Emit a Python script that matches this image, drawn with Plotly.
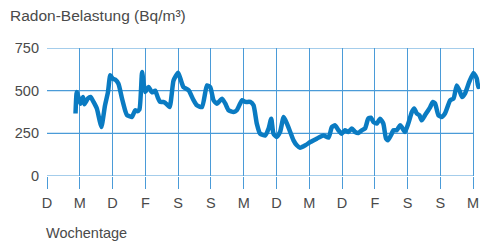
import plotly.graph_objects as go

# time in days since the first tick (D), radon concentration in Bq/m³
days = [0.87, 0.91, 1.02, 1.10, 1.14, 1.25, 1.33, 1.42, 1.52, 1.60, 1.66, 1.77, 1.86, 1.93, 2.00,
        2.08, 2.18, 2.28, 2.39, 2.44, 2.52, 2.59, 2.69, 2.75, 2.82, 2.90, 2.95, 3.00, 3.10, 3.20,
        3.30, 3.38, 3.45, 3.55, 3.60, 3.74, 3.86, 4.00, 4.06, 4.12, 4.16, 4.32, 4.47, 4.57, 4.73,
        4.88, 4.98, 5.08, 5.18, 5.34, 5.44, 5.54, 5.69, 5.79, 5.89, 5.95, 6.05, 6.20, 6.30, 6.40,
        6.50, 6.66, 6.76, 6.84, 6.91, 7.01, 7.11, 7.22, 7.32, 7.42, 7.52, 7.62, 7.72, 7.88, 8.03,
        8.23, 8.43, 8.59, 8.69, 8.79, 8.89, 8.99, 9.09, 9.19, 9.30, 9.40, 9.50, 9.60, 9.70, 9.80,
        9.88, 9.96, 10.06, 10.16, 10.26, 10.34, 10.40, 10.49, 10.57, 10.67, 10.77, 10.82, 10.92,
        11.02, 11.13, 11.20, 11.28, 11.36, 11.43, 11.53, 11.69, 11.77, 11.84, 11.94, 12.04, 12.14,
        12.30, 12.40, 12.50, 12.58, 12.66, 12.75, 12.88, 13.01, 13.11, 13.16, 13.26]
radon = [366, 492, 424, 463, 420, 455, 463, 434, 395, 330, 287, 414, 492, 590, 571,
         565, 540, 460, 380, 356, 350, 346, 385, 380, 390, 609, 540, 492, 521, 490,
         500, 460, 434, 434, 430, 404, 560, 605, 575, 541, 521, 502, 444, 414, 404,
         531, 521, 444, 424, 453, 424, 385, 375, 385, 424, 444, 434, 434, 414, 307,
         248, 238, 278, 336, 248, 229, 258, 346, 307, 258, 209, 180, 166, 180, 199,
         219, 238, 225, 287, 297, 268, 248, 268, 258, 278, 258, 252, 268, 278, 336,
         342, 316, 307, 336, 307, 220, 209, 238, 268, 268, 297, 287, 258,
         307, 375, 395, 366, 356, 326, 356, 404, 434, 424, 356, 346, 366,
         444, 453, 531, 502, 463, 483, 551, 604, 571, 521, 531]

tick_vals = list(range(14))
tick_labels = ["D", "M", "D", "F", "S", "S", "M", "D", "M", "D", "F", "S", "S", "M"]
y_ticks = [0, 250, 500, 750]

GRID = "#4a9bd8"
LINE = "#0a7bc2"
TXT = "#4a4a4a"
FONT = "Liberation Sans"

# page body has an 8px default margin, so the figure is sized 480x235
W, H = 480, 235

fig = go.Figure()
fig.add_trace(go.Scatter(x=days, y=radon, mode="lines",
                         line=dict(color=LINE, width=4.5, shape="spline", smoothing=0.5),
                         cliponaxis=False, hoverinfo="skip"))

for yv in y_ticks:
    fig.add_shape(type="line", xref="x", yref="y", x0=tick_vals[0], x1=tick_vals[-1],
                  y0=yv, y1=yv, line=dict(color=GRID, width=1.2), layer="below")

fig.update_layout(
    width=W, height=H,
    margin=dict(l=39, r=5, t=40, b=67, autoexpand=False),
    paper_bgcolor="white", plot_bgcolor="white",
    showlegend=False,
    font=dict(family=FONT, color=TXT, size=14),
    title=dict(text="Radon-Belastung (Bq/m³)", x=2 / W, xanchor="left",
               y=1 - 8 / H, yanchor="middle", yref="container",
               font=dict(family=FONT, size=15.5, color=TXT)),
    annotations=[dict(text="Wochentage", xref="paper", yref="paper",
                      x=-3 / 436, xanchor="left", y=-57 / 128, yanchor="middle",
                      showarrow=False, font=dict(family=FONT, size=14.5, color=TXT))],
)
fig.update_xaxes(range=[0, 13.3], tickvals=tick_vals, ticktext=tick_labels,
                 showgrid=True, gridcolor=GRID, gridwidth=1.2, zeroline=False,
                 showline=False, ticks="outside", ticklen=12, tickcolor=GRID, tickwidth=1.2,
                 tickfont=dict(family=FONT, size=14.5, color=TXT), ticklabelstandoff=2)
fig.update_yaxes(range=[0, 750], tickvals=y_ticks, showgrid=False, zeroline=False,
                 showline=False, ticks="", ticklabelstandoff=7,
                 tickfont=dict(family=FONT, size=14.5, color=TXT))

fig.write_html("out.html")
